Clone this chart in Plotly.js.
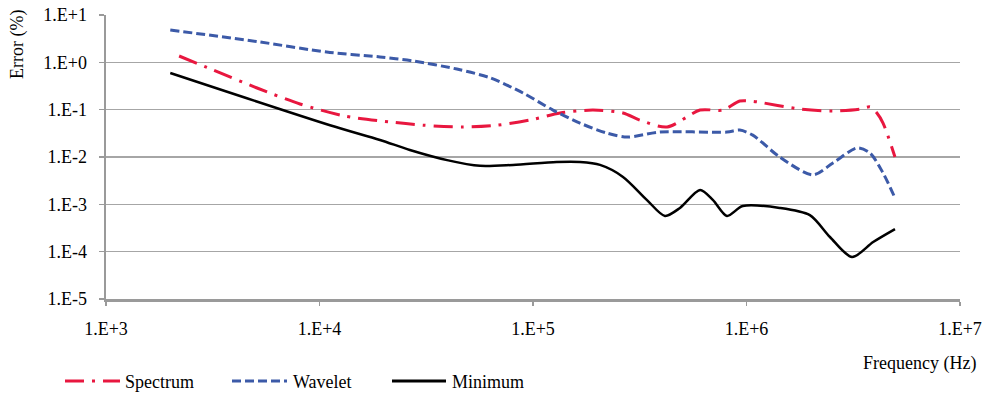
<!DOCTYPE html>
<html>
<head>
<meta charset="utf-8">
<script src="https://cdn.plot.ly/plotly-3.0.1.min.js"></script>
<style>
  html, body { margin: 0; padding: 0; background: #ffffff; }
  #chart { width: 987px; height: 396px; }
</style>
</head>
<body>
<div id="chart"></div>
<script>
// Error (%) versus frequency for three estimation methods
const spectrumFreq = [2.2e3, 3.17e3, 5.1e3, 8.1e3, 1.32e4, 2.14e4, 3.05e4, 4.7e4, 6.8e4, 9.7e4,
  1.34e5, 1.91e5, 2.64e5, 3.17e5, 4.25e5, 6.06e5, 7.76e5, 9.3e5, 1.07e6, 1.78e6,
  2.54e6, 3.4e6, 3.79e6, 4.08e6, 4.36e6, 4.96e6];
const spectrumErr = [1.36, 0.69, 0.287, 0.132, 0.073, 0.055, 0.047, 0.043, 0.047, 0.0605,
  0.085, 0.098, 0.085, 0.060, 0.043, 0.098, 0.098, 0.152, 0.15, 0.103,
  0.094, 0.103, 0.114, 0.085, 0.052, 0.010];

const waveletFreq = [2.0e3, 5.26e3, 1.08e4, 1.92e4, 2.74e4, 4.4e4, 6.3e4, 8.98e4, 1.24e5, 1.66e5,
  2.22e5, 2.76e5, 3.93e5, 8.1e5, 9.3e5, 1.07e6, 1.43e6, 2.05e6, 2.54e6, 3.3e6,
  3.79e6, 4.36e6, 4.96e6];
const waveletErr = [4.82, 2.69, 1.65, 1.30, 1.07, 0.72, 0.47, 0.225, 0.098, 0.052,
  0.032, 0.0264, 0.0337, 0.0337, 0.037, 0.029, 0.010, 0.0042, 0.0075, 0.0155,
  0.0121, 0.0046, 0.00136];

const minimumFreq = [2.0e3, 1.12e4, 1.92e4, 2.65e4, 3.96e4, 5.65e4, 8.06e4, 1.29e5, 1.66e5, 2.06e5,
  2.64e5, 3.42e5, 4.15e5, 4.88e5, 6.06e5, 6.97e5, 8.1e5, 9.6e5, 1.43e6, 1.98e6,
  2.46e6, 3.12e6, 3.92e6, 4.96e6];
const minimumErr = [0.596, 0.047, 0.0229, 0.0141, 0.0086, 0.0065, 0.0068, 0.0078, 0.0078, 0.0068,
  0.0038, 0.00123, 0.00057, 0.00084, 0.00201, 0.00123, 0.00057, 0.00092, 0.00084, 0.00059,
  0.000204, 0.000077, 0.00016, 0.0003];

const seriesNames = ['Spectrum', 'Wavelet', 'Minimum'];

const xTickVals = [1e3, 1e4, 1e5, 1e6, 1e7];
const xTickText = ['1.E+3', '1.E+4', '1.E+5', '1.E+6', '1.E+7'];
const yTickVals = [1e-5, 1e-4, 1e-3, 1e-2, 1e-1, 1e0, 1e1];
const yTickText = ['1.E-5', '1.E-4', '1.E-3', '1.E-2', '1.E-1', '1.E+0', '1.E+1'];

const RED = '#e8173f';
const BLUE = '#3c5aa8';
const BLACK = '#000000';
const SPECTRUM_DASH = '19px,8px,3px,8px';
const WAVELET_DASH = '9px,4px';
const FONT = "'Liberation Serif', 'Times New Roman', serif";
const FS = 18;

const traces = [
  { x: spectrumFreq, y: spectrumErr, name: seriesNames[0], mode: 'lines',
    line: { color: RED, width: 3, dash: SPECTRUM_DASH, shape: 'spline', smoothing: 0.8 } },
  { x: waveletFreq, y: waveletErr, name: seriesNames[1], mode: 'lines',
    line: { color: BLUE, width: 3, dash: WAVELET_DASH, shape: 'spline', smoothing: 0.8 } },
  { x: minimumFreq, y: minimumErr, name: seriesNames[2], mode: 'lines',
    line: { color: BLACK, width: 2.5, shape: 'spline', smoothing: 0.8 } }
];

// Legend drawn below the axes: sample line + label for each series
const L = 106, R = 960, T = 15, B = 299;
const px = v => (v - L) / (R - L);
const py = v => (B - v) / (B - T);
const legendY = 381;
const legendItems = [
  { x0: 65, x1: 120, tx: 123, color: RED, dash: SPECTRUM_DASH, width: 3 },
  { x0: 232, x1: 287, tx: 291, color: BLUE, dash: WAVELET_DASH, width: 3 },
  { x0: 392, x1: 446, tx: 450, color: BLACK, dash: 'solid', width: 3 }
];
const shapes = legendItems.map(it => ({
  type: 'line', xref: 'paper', yref: 'paper',
  x0: px(it.x0), x1: px(it.x1), y0: py(legendY), y1: py(legendY),
  line: { color: it.color, width: it.width, dash: it.dash }
}));
const annotations = legendItems.map((it, i) => ({
  xref: 'paper', yref: 'paper', x: px(it.tx), y: py(legendY + 1),
  xanchor: 'left', yanchor: 'middle', showarrow: false,
  text: seriesNames[i], font: { family: FONT, size: FS, color: '#000' }
}));
annotations.push({
  xref: 'paper', yref: 'paper', x: px(18), y: py(45),
  xanchor: 'center', yanchor: 'middle', showarrow: false, textangle: -90,
  text: 'Error (%)', font: { family: FONT, size: FS, color: '#000' }
});
annotations.push({
  xref: 'paper', yref: 'paper', x: px(978), y: py(363),
  xanchor: 'right', yanchor: 'middle', showarrow: false,
  text: 'Frequency (Hz)', font: { family: FONT, size: FS, color: '#000' }
});

const layout = {
  width: 987, height: 396,
  margin: { l: L, r: 987 - R, t: T, b: 396 - B, pad: 0 },
  paper_bgcolor: '#ffffff', plot_bgcolor: '#ffffff',
  showlegend: false,
  font: { family: FONT, size: FS, color: '#000' },
  xaxis: {
    type: 'log', range: [3, 7],
    tickvals: xTickVals, ticktext: xTickText,
    ticks: 'outside', ticklen: 4, tickwidth: 1.5, tickcolor: '#9a9a9a',
    showline: true, linecolor: '#9a9a9a', linewidth: 2.5,
    showgrid: false, zeroline: false,
    ticklabelstandoff: 8,
    tickfont: { family: FONT, size: FS, color: '#000' }
  },
  yaxis: {
    type: 'log', range: [-5, 1],
    tickvals: yTickVals, ticktext: yTickText,
    ticks: 'outside', ticklen: 5, tickwidth: 1.5, tickcolor: '#9a9a9a',
    showline: true, linecolor: '#9a9a9a', linewidth: 2.5,
    showgrid: true, gridcolor: '#a6a6a6', gridwidth: 1.5,
    zeroline: false,
    ticklabelstandoff: 8,
    tickfont: { family: FONT, size: FS, color: '#000' }
  },
  shapes: shapes,
  annotations: annotations
};

Plotly.newPlot('chart', traces, layout, { displayModeBar: false, staticPlot: true });
</script>
</body>
</html>
